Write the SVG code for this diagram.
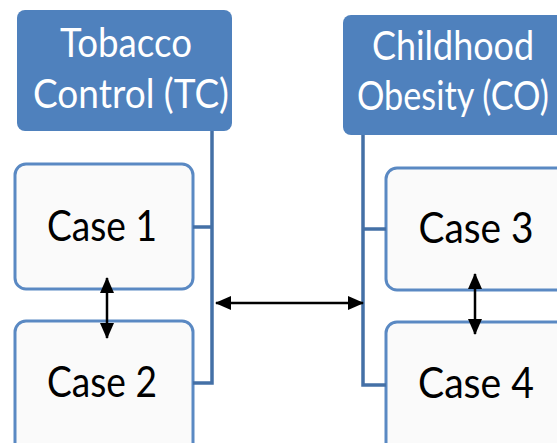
<svg xmlns="http://www.w3.org/2000/svg" width="557" height="443" viewBox="0 0 557 443">
<style>
.hdr rect{fill:#4F81BD;}
.hdr text{fill:#FFFFFF;font-family:"Lato","Open Sans","Liberation Sans",sans-serif;font-size:40px;text-anchor:middle;}
.case rect{fill:#FAFAFA;stroke:#5A89C3;stroke-width:3;}
.case text{fill:#000000;font-family:"Lato","Open Sans","Liberation Sans",sans-serif;font-size:42px;text-anchor:middle;}
.tree{fill:none;stroke:#4470A6;stroke-width:3.5;}
.arr{fill:none;stroke:#000000;stroke-width:2.5;marker-start:url(#ah);marker-end:url(#ah);}
</style>
<defs>
<marker id="ah" viewBox="0 0 16 14" refX="15" refY="7" markerWidth="16" markerHeight="14" markerUnits="userSpaceOnUse" orient="auto-start-reverse">
<path d="M0,0 L16,7 L0,14 Z" fill="#000000"/>
</marker>
</defs>
<rect width="557" height="443" fill="#FFFFFF"/>
<g id="tc" class="hdr">
<rect x="17" y="10" width="215" height="121" rx="8"/>
<text x="126" y="57" textLength="132" lengthAdjust="spacingAndGlyphs">Tobacco</text>
<text x="131" y="108" textLength="196" lengthAdjust="spacingAndGlyphs">Control (TC)</text>
</g>
<g id="co" class="hdr">
<rect x="343" y="15" width="224" height="120" rx="8"/>
<text x="453" y="60" textLength="162" lengthAdjust="spacingAndGlyphs">Childhood</text>
<text x="453" y="110" textLength="192" lengthAdjust="spacingAndGlyphs">Obesity (CO)</text>
</g>
<g id="case1" class="case">
<rect x="15" y="164" width="178" height="125" rx="11"/>
<text x="102" y="241" textLength="110" lengthAdjust="spacingAndGlyphs">Case 1</text>
</g>
<g id="case2" class="case">
<rect x="15" y="321" width="178" height="135" rx="11"/>
<text x="102" y="397" textLength="110" lengthAdjust="spacingAndGlyphs">Case 2</text>
</g>
<g id="case3" class="case">
<rect x="386" y="168" width="182" height="122" rx="11"/>
<text x="476" y="243" textLength="115" lengthAdjust="spacingAndGlyphs">Case 3</text>
</g>
<g id="case4" class="case">
<rect x="386" y="322" width="182" height="135" rx="11"/>
<text x="476" y="398" textLength="116" lengthAdjust="spacingAndGlyphs">Case 4</text>
</g>
<g id="connectors">
<path class="tree" d="M212,131 V383 H193 M193,227 H212"/>
<path class="tree" d="M363,135 V385 H386 M363,229 H386"/>
<path class="arr" d="M107,278 V338"/>
<path class="arr" d="M475,274 V334"/>
<path class="arr" d="M216,303 H363"/>
</g>
</svg>
